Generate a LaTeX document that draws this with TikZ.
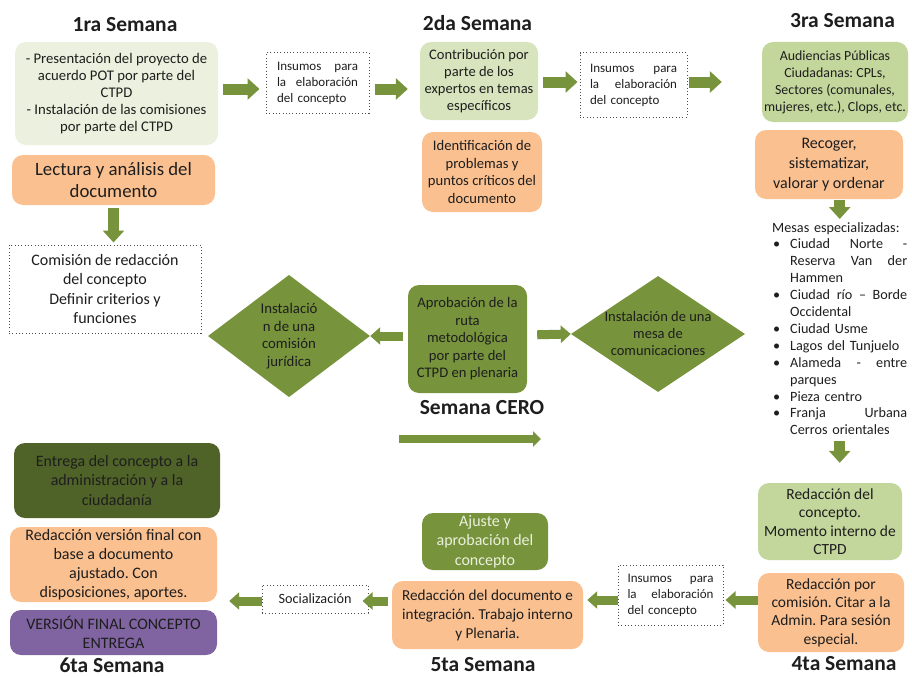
\documentclass[tikz,border=0pt]{standalone}
\usepackage{fontspec}
\setmainfont{Carlito}
\usetikzlibrary{arrows.meta,shapes.geometric}

\definecolor{verdeclaro}{HTML}{EBF1DE}
\definecolor{verdesuave}{HTML}{D7E4BD}
\definecolor{verdemedio}{HTML}{C3D69B}
\definecolor{verdeoliva}{HTML}{77933C}
\definecolor{verdeoscuro}{HTML}{4F6228}
\definecolor{naranja}{HTML}{FAC090}
\definecolor{morado}{HTML}{8064A2}
\definecolor{texto}{HTML}{1E1E1E}

\newcommand{\fs}[2]{\fontsize{#1}{#2}\selectfont}
\newcommand{\bul}{\makebox[18pt][l]{\hspace{1pt}\textbullet}}
\newcommand{\ind}{\hspace*{18pt}}
\frenchspacing

\begin{document}
\begin{tikzpicture}[x=1pt,y=-1pt]
       \tikzstyle{caja}=[rounded corners=11pt, align=center, inner sep=2pt, text=texto]
       \tikzstyle{punteado}=[draw=black!70, line width=1pt, dash pattern=on 1pt off 2.3pt, inner ysep=2pt, text=texto]
       \tikzstyle{rombo}=[diamond, fill=verdeoliva, align=center, inner sep=0pt, text=texto]
       \tikzstyle{titulo}=[font={\fs{21.5}{24}\bfseries}, inner sep=0pt, text=texto]
       \tikzstyle{flecha}=[draw=verdeoliva, line width=11pt, -{Triangle[length=12pt,width=21pt]}]
       \tikzstyle{flechita}=[draw=verdeoliva, line width=9pt, -{Triangle[length=10pt,width=17pt]}]
       \tikzstyle{flechafina}=[draw=verdeoliva, line width=8pt, -{Triangle[length=8pt,width=15pt]}]

       \useasboundingbox (0,0) rectangle (912,677);

       % semana 1
       \node[titulo] (t_1) at (125,25) {1ra Semana};
       \node[caja, fill=verdeclaro, minimum width=203, minimum height=103, font={\fs{14.7}{17}}] (s1_a) at (116.5,93.5)
         {- Presentación del proyecto de\\ acuerdo POT por parte del\\ CTPD\\ - Instalación de las comisiones\\ por parte del CTPD};
       \node[caja, fill=naranja, minimum width=203, minimum height=50, font={\fs{18.8}{22}}] (s1_b) at (113.5,180)
         {Lectura y análisis del\\ documento};
       \node[punteado, minimum width=192, minimum height=88, align=center, font={\fs{16}{19.5}}] (com) at (105,289)
         {Comisión de redacción\\ del concepto\\ Definir criterios y\\ funciones};
       \node[punteado, text width=81, inner xsep=11pt, minimum height=60, align=left, font={\fs{13}{16}}] (ins_1) at (317.5,83)
         {Insumos\hfill para\\ la\hfill elaboración\\ del concepto};

       % semana 2
       \node[titulo] (t_2) at (477.5,23) {2da Semana};
       \node[caja, fill=verdesuave, minimum width=118, minimum height=78, font={\fs{14.5}{17}}] (s2_a) at (479,81)
         {Contribución por\\ parte de los\\ expertos en temas\\ específicos};
       \node[caja, fill=naranja, minimum width=120, minimum height=80, font={\fs{14.6}{17.5}}] (s2_b) at (482,172)
         {Identificación de\\ problemas y\\ puntos críticos del\\ documento};
       \node[punteado, text width=87, inner xsep=10pt, minimum height=64, align=left, font={\fs{13}{16}}] (ins_2) at (633.5,85)
         {Insumos\hfill para\\ la\hfill elaboración\\ del concepto};

       % semana 3
       \node[titulo] (t_3) at (842.5,21) {3ra Semana};
       \node[caja, fill=verdemedio, minimum width=146, minimum height=80, font={\fs{13.9}{17}}] (s3_a) at (835,82)
         {Audiencias Públicas\\ Ciudadanas: CPLs,\\ Sectores (comunales,\\ mujeres, etc.), Clops, etc.};
       \node[caja, fill=naranja, minimum width=148, minimum height=69, font={\fs{16}{20}}] (s3_b) at (829,164.5)
         {Recoger,\\ sistematizar,\\ valorar y ordenar};
       \node[anchor=north west, text width=135, inner xsep=0pt, inner ysep=3pt, align=left, text=texto, font={\fs{14.2}{16.9}}] (mesas) at (772,219)
         {Mesas especializadas:\\
          \bul Ciudad\hfill Norte\hfill -\\
          \ind Reserva\hfill Van\hfill der\\
          \ind Hammen\\
          \bul Ciudad\hfill río\hfill –\hfill Borde\\
          \ind Occidental\\
          \bul Ciudad Usme\\
          \bul Lagos del Tunjuelo\\
          \bul Alameda\hfill -\hfill entre\\
          \ind parques\\
          \bul Pieza centro\\
          \bul Franja\hfill Urbana\\
          \ind Cerros orientales};

       % semana cero
       \node[caja, fill=verdeoliva, minimum width=119, minimum height=108, font={\fs{14.6}{17.5}}] (cero) at (467.5,339)
         {Aprobación de la\\ ruta\\ metodológica\\ por parte del\\ CTPD en plenaria};
       \node[titulo] (t_0) at (482,408) {Semana CERO};
       \node[rombo, minimum width=162, minimum height=120, font={\fs{14.8}{17.5}}] (rom_1) at (289,336)
         {Instalació\\ n de una\\ comisión\\ jurídica};
       \node[rombo, aspect=1.5, inner xsep=-10pt, minimum width=174, minimum height=116, font={\fs{14.5}{17}}] (rom_2) at (658,334)
         {Instalación de una\\ mesa de\\ comunicaciones};
       \coordinate (c_ini) at (399,439);
       \coordinate (c_fin) at (541,439);

       % semana 4
       \node[titulo] (t_4) at (844,664) {4ta Semana};
       \node[caja, fill=verdemedio, minimum width=144, minimum height=77, font={\fs{15.5}{18.4}}] (s4_a) at (830,521.5)
         {Redacción del\\ concepto.\\ Momento interno de\\ CTPD};
       \node[caja, fill=naranja, minimum width=146, minimum height=79, font={\fs{15.5}{18.4}}] (s4_b) at (831,612.5)
         {Redacción por\\ comisión. Citar a la\\ Admin. Para sesión\\ especial.};
       \node[punteado, text width=86, inner xsep=9.5pt, minimum height=60, align=left, font={\fs{13}{16}}] (ins_3) at (670.5,595)
         {Insumos\hfill para\\ la\hfill elaboración\\ del concepto};

       % semana 5
       \node[titulo] (t_5) at (483,665) {5ta Semana};
       \node[caja, fill=verdeoliva, text=verdeclaro, minimum width=126, minimum height=57, font={\fs{16}{19.3}}] (s5_a) at (485,541.5)
         {Ajuste y\\ aprobación del\\ concepto};
       \node[caja, fill=naranja, minimum width=191, minimum height=68, font={\fs{15.2}{19}}] (s5_b) at (487.5,615)
         {Redacción del documento e\\ integración. Trabajo interno\\ y Plenaria.};
       \node[punteado, minimum width=106, minimum height=28, font={\fs{14.2}{16}}] (soc) at (315,599) {Socialización};

       % semana 6
       \node[titulo] (t_6) at (112,665) {6ta Semana};
       \node[caja, fill=verdeoscuro, minimum width=206, minimum height=75, font={\fs{15.9}{19.3}}] (s6_a) at (117,480.5)
         {Entrega del concepto a la\\ administración y a la\\ ciudadanía};
       \node[caja, fill=naranja, minimum width=207, minimum height=75, font={\fs{16}{19}}] (s6_b) at (113.5,564.5)
         {Redacción versión final con\\ base a documento\\ ajustado. Con\\ disposiciones, aportes.};
       \node[caja, fill=morado, minimum width=207, minimum height=45, font={\fs{16}{19}}] (s6_c) at (113.5,632.5)
         {VERSIÓN FINAL CONCEPTO\\ ENTREGA};

       % flechas
       \draw[flecha, shorten <=5pt, shorten >=6pt] ([yshift=4.5pt]s1_a.east) -- ([yshift=-6pt]ins_1.west);
       \draw[flecha, shorten <=5pt, shorten >=12pt] ([yshift=-6pt]ins_1.east) -- ([yshift=-8pt]s2_a.west);
       \draw[flecha, shorten <=5pt, shorten >=2pt] ([yshift=-1pt]s2_a.east) -- ([yshift=3pt]ins_2.west);
       \draw[flecha, shorten <=1pt, shorten >=40pt] ([yshift=3pt]ins_2.east) -- (s3_a.west);
       \draw[flecha, shorten <=3pt, shorten >=2pt] (s1_b.south) -- (s1_b.south |- com.north);
       \draw[flecha, shorten <=1pt] (mesas.north |- s3_b.south) -- (mesas.north);
       \draw[flecha, shorten <=3pt, shorten >=20pt] (mesas.south) -- (mesas.south |- s4_a.north);
       \draw[flechita, shorten <=5pt] ([yshift=3pt]cero.west) -- (rom_1.east);
       \draw[flechita, shorten <=10pt] ([yshift=4pt]cero.east) -- (rom_2.west);
       \draw[flechafina] (c_ini) -- (c_fin);
       \draw[flechita, shorten >=2pt] ([yshift=12.5pt]s4_b.west) -- ([yshift=-5pt]ins_3.east);
       \draw[flechita, shorten >=4pt] ([yshift=-5pt]ins_3.west) -- ([yshift=15pt]s5_b.east);
       \draw[flechita, shorten <=4pt, shorten >=-6pt] ([yshift=14pt]s5_b.west) -- ([yshift=-2pt]soc.east);
       \draw[flechita, shorten >=12pt] ([yshift=-2pt]soc.west) -- ([yshift=-36.5pt]s6_b.east);
\end{tikzpicture}
\end{document}
